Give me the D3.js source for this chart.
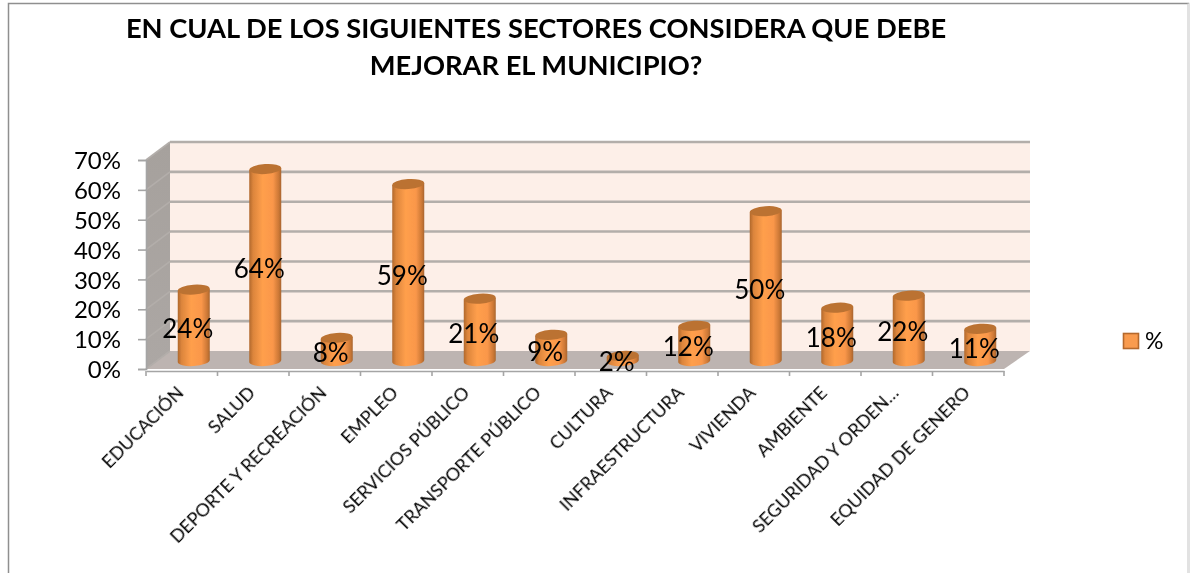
<!DOCTYPE html>
<html><head><meta charset="utf-8">
<script src="https://cdnjs.cloudflare.com/ajax/libs/d3/7.8.5/d3.min.js"></script>
<style>html,body{margin:0;padding:0;background:#fff}svg{display:block}text{font-family:Lato,"Open Sans",sans-serif;fill:#000}</style>
</head><body><svg id="c" width="1193" height="573"></svg>
<script>
const categories=["EDUCACIÓN","SALUD","DEPORTE Y RECREACIÓN","EMPLEO","SERVICIOS PÚBLICO","TRANSPORTE PÚBLICO","CULTURA","INFRAESTRUCTURA","VIVIENDA","AMBIENTE","SEGURIDAD Y ORDEN…","EQUIDAD DE GENERO"];
const values=[24,64,8,59,21,9,2,12,50,18,22,11];
const yTicks=[0,10,20,30,40,50,60,70];
const titleLines=["EN CUAL DE LOS SIGUIENTES SECTORES CONSIDERA QUE DEBE","MEJORAR EL MUNICIPIO?"];
const seriesName="%";

const svg=d3.select("#c");
const x=d3.scaleBand().domain(categories).range([146,1004]);
const y=d3.scaleLinear().domain([0,70]).range([369,160]);
const dx=24, dy=-18;
const defs=svg.append("defs");
const g=defs.append("linearGradient").attr("id","cyl");
[[0,"#b0682c"],[.12,"#dc853c"],[.42,"#ff9f4c"],[.74,"#fa974a"],[.92,"#cc7836"],[1,"#a9662e"]].forEach(s=>g.append("stop").attr("offset",s[0]).attr("stop-color",s[1]));
const sw=defs.append("linearGradient").attr("id","side").attr("x1",0).attr("x2",0).attr("y1",0).attr("y2",1);
sw.append("stop").attr("offset",0).attr("stop-color","#a6a19d");
sw.append("stop").attr("offset",1).attr("stop-color","#aca7a4");
defs.append("filter").attr("id","soft").append("feGaussianBlur").attr("stdDeviation",0.5);
defs.append("filter").attr("id","softText").append("feGaussianBlur").attr("stdDeviation",0.3);

// chart frame
svg.append("path").attr("d","M8.5,573V3.5H1188.5V573").attr("fill","none").attr("stroke","#8f8f8f").attr("stroke-width",1.5);
svg.append("path").attr("d","M1188.5,3.5V573").attr("fill","none").attr("stroke","#e2e2e2").attr("stroke-width",2);

// title
svg.append("g").attr("filter","url(#softText)").selectAll("text.title").data(titleLines).join("text").attr("class","title")
 .attr("x",536).attr("y",(d,i)=>38+i*37).attr("text-anchor","middle")
 .attr("font-size",27.3).attr("font-weight",700).text(d=>d);

const x0=146,x1=1004,yb=y(0),yt=y(70);
const walls=svg.append("g").attr("filter","url(#soft)");
walls.append("path").attr("d",`M${x0},${yb}L${x0+dx},${yb+dy}L${x1+dx+2},${yb+dy}L${x1},${yb}Z`).attr("fill","#bdb4b1");
walls.append("rect").attr("x",x0+dx).attr("y",yt+dy).attr("width",x1+dx+2-x0-dx).attr("height",yb-yt).attr("fill","#fdefe8");
walls.append("path").attr("d",`M${x0},${yb}L${x0},${yt}L${x0+dx},${yt+dy}L${x0+dx},${yb+dy}Z`).attr("fill","url(#side)");
walls.selectAll("line.gb").data(yTicks.slice(1)).join("line").attr("class","gb")
 .attr("x1",x0+dx).attr("x2",x1+dx+2).attr("y1",d=>y(d)+dy).attr("y2",d=>y(d)+dy)
 .attr("stroke","#b3aeaa").attr("stroke-width",2.6);
walls.selectAll("line.gs").data(yTicks).join("line").attr("class","gs")
 .attr("x1",x0).attr("x2",x0+dx).attr("y1",d=>y(d)).attr("y2",d=>y(d)+dy)
 .attr("stroke","#b3aeaa").attr("stroke-width",1.6);

// axes
const yAxis=svg.append("g").attr("transform",`translate(${x0},0)`)
 .call(d3.axisLeft(y).tickValues(yTicks).tickSize(8).tickPadding(17).tickFormat(d=>d+"%"));
yAxis.selectAll("text").attr("font-size",24).attr("dy","0.36em").attr("filter","url(#softText)");
const xAxis=svg.append("g").attr("transform",`translate(0,${yb+2})`)
 .call(d3.axisBottom(x).tickSize(0).tickPadding(0));
xAxis.selectAll(".tick line").remove();
xAxis.selectAll("text").attr("font-size",18).attr("text-anchor","end").attr("dy",0).attr("y",0)
 .attr("transform","translate(3,23) rotate(-45)").attr("filter","url(#softText)");
xAxis.selectAll("line.t").data(d3.range(categories.length+1)).join("line").attr("class","t")
 .attr("x1",i=>x0+i*x.bandwidth()).attr("x2",i=>x0+i*x.bandwidth()).attr("y1",0).attr("y2",5);
svg.selectAll(".domain,.tick line,line.t").attr("stroke","#a5a5a5").attr("stroke-width",1.6);

// cylinders
const base=362, hScale=v=>(y(0)-y(v))*1.01, rx=16, ry=5, shift=12, tilt=-4;
const bars=svg.append("g").attr("filter","url(#soft)");
const bar=bars.selectAll("g").data(values).join("g")
 .attr("transform",(d,i)=>`translate(${x(categories[i])+x.bandwidth()/2+shift},${base})`);
bar.append("path").attr("fill","url(#cyl)")
 .attr("d",d=>`M${-rx},${-hScale(d)+1}V0A${rx},${ry} ${tilt} 0 0 ${rx},-2V${-hScale(d)-1}Z`);
bar.append("ellipse").attr("rx",rx).attr("ry",ry).attr("fill","#bb7233")
 .attr("transform",d=>`translate(0,${-hScale(d)}) rotate(${tilt})`);

// data labels
svg.append("g").attr("filter","url(#softText)").selectAll("text.lab").data(values).join("text").attr("class","lab")
 .attr("x",(d,i)=>x(categories[i])+x.bandwidth()/2+shift-6)
 .attr("y",d=>base-hScale(d)/2+3).attr("dy","0.36em")
 .attr("text-anchor","middle").attr("font-size",26).text(d=>d+"%");

// legend
svg.append("rect").attr("x",1123.5).attr("y",333.5).attr("width",15).attr("height",15)
 .attr("fill","#f99b4e").attr("stroke","#b5692c").attr("stroke-width",1.6);
svg.append("text").attr("x",1145).attr("y",349).attr("font-size",23).attr("filter","url(#softText)").text(seriesName);
</script></body></html>
